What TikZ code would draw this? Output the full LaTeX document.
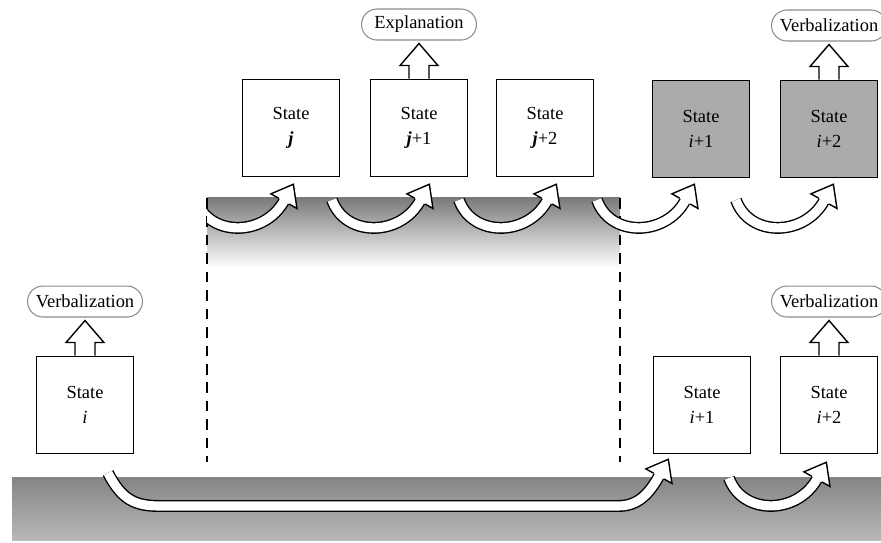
\documentclass[tikz,border=0pt]{standalone}
\usepackage{fontspec}
\setmainfont{Liberation Serif}
\usetikzlibrary{calc,shapes.misc,positioning,decorations.markings}

\tikzset{
 state/.style={draw, line width=1.1pt, minimum width=1.94cm, minimum height=1.94cm, align=center, font=\fontsize{10.5}{14}\selectfont},
 oldstate/.style={state, fill=black!33},
 report/.style={rounded rectangle, draw=black!45, line width=0.6pt, minimum height=0.62cm, minimum width=2.44cm, inner sep=2pt, font=\fontsize{10.5}{12}\selectfont},
 shaft/.style={line width=0.8pt, double=white, double distance=5.2pt},
 headmark/.style={postaction={decorate, decoration={markings, mark=at position -0.1pt with {\draw[line width=0.8pt, fill=white] (0,-3.4pt) -- (0,-8.5pt) -- (11pt,0) -- (0,8.5pt) -- (0,3.4pt);}}}}
}

% hollow block arrow going up from a box
\newcommand{\upblock}[1]{\draw[line width=0.8pt, fill=white] ($(#1.north)+(-10,0)$) -- ++(0,-13) -- ++(-9,0) -- ++(19,-22) -- ++(19,22) -- ++(-9,0) -- ++(0,13);}
% curved hollow arrow
\newcommand{\bentarrow}[1]{\draw[shaft] #1; \path[headmark] #1;}

\begin{document}
\begin{tikzpicture}[x=0.02cm, y=-0.02cm]
 \useasboundingbox (0,0) rectangle (881,543);

 % shaded bands
 \shade[top color=black!52, middle color=black!34, bottom color=white] (207,198) rectangle (620,268);
 \shade[top color=black!48, bottom color=black!28] (12,477) rectangle (881,540);
 \draw[line width=1.6pt, dash pattern=on 6pt off 4.5pt] (207,198) -- (207,462);
 \draw[line width=1.6pt, dash pattern=on 6pt off 4.5pt] (620,198) -- (620,462);

 % states
 \node[state] (si) at (85,405) {State\\\textit{i}};
 \node[state] (sj) at (291,128) {State\\\textbf{\textit{j}}};
 \node[state] (sj1) at (419,128) {State\\\textbf{\textit{j}}+1};
 \node[state] (sj2) at (545,128) {State\\\textbf{\textit{j}}+2};
 \node[oldstate] (gi1) at (701,129) {State\\\textit{i}+1};
 \node[oldstate] (gi2) at (829,129) {State\\\textit{i}+2};
 \node[state] (si1) at (702,405) {State\\\textit{i}+1};
 \node[state] (si2) at (829,405) {State\\\textit{i}+2};

 % reports
 \node[report, above=0.76cm of sj1] (ex) {Explanation};
 \node[report, above=0.76cm of gi2] (vtop) {Verbalization};
 \node[report, above=0.76cm of si] (vleft) {Verbalization};
 \node[report, above=0.76cm of si2] (vright) {Verbalization};
 \upblock{sj1}
 \upblock{gi2}
 \upblock{si}
 \upblock{si2}

 % transitions
 \begin{scope}
  \clip (207,150) rectangle (400,260);
  \bentarrow{(196,200) .. controls (209,237) and (264,237) .. (284,201)}
 \end{scope}
 \bentarrow{(332,200) .. controls (345,237) and (400,237) .. (420,201)}
 \bentarrow{(459,200) .. controls (472,237) and (527,237) .. (547,201)}
 \bentarrow{(597,200) .. controls (610,237) and (665,237) .. (685,201)}
 \bentarrow{(736,200) .. controls (749,237) and (804,237) .. (824,201)}
 \bentarrow{(108,473) .. controls (122,500) and (135,506) .. (160,506) -- (618,506) .. controls (638,506) and (649,494) .. (659,476)}
 \bentarrow{(729,478) .. controls (742,515) and (797,515) .. (817,479)}
\end{tikzpicture}
\end{document}
